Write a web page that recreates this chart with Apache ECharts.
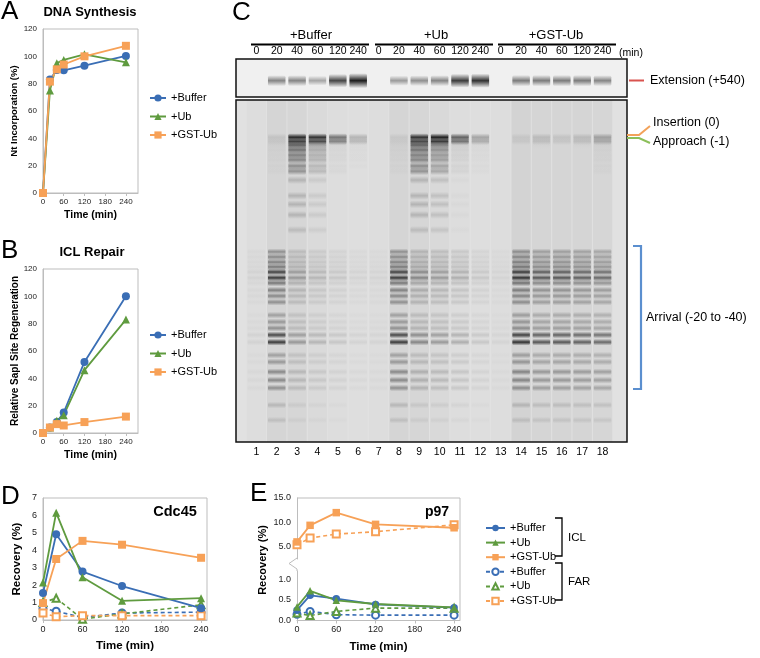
<!DOCTYPE html>
<html>
<head>
<meta charset="utf-8">
<script src="https://cdn.jsdelivr.net/npm/echarts@6/dist/echarts.min.js"></script>
<style>
html, body { margin: 0; padding: 0; background: #fff; }
#fig { width: 760px; height: 658px; }
</style>
</head>
<body>
<div id="fig"></div>
<script>
// ---- panel A / B : time course (min) ----
var times = [0, 20, 40, 60, 120, 240];
var synthBuffer = [0, 83, 90, 89.8, 93.2, 100.3];
var synthUb = [0, 75, 95, 97.4, 101.5, 95.6];
var synthGst = [0, 81.5, 90.5, 94, 100, 107.7];
var repairBuffer = [0, 4, 8, 15, 52, 100];
var repairUb = [0, 4, 9, 13, 46, 83];
var repairGst = [0, 4, 6.5, 5.5, 8, 12];

// ---- panel D / E : recovery (%) ----
var recTimes = [0, 20, 60, 120, 240];
var cdcIclBuffer = [1.55, 4.92, 2.78, 1.95, 0.68];
var cdcIclUb = [2.15, 6.16, 2.45, 1.1, 1.25];
var cdcIclGst = [0.97, 3.5, 4.54, 4.32, 3.57];
var cdcFarBuffer = [0.68, 0.5, 0.15, 0.4, 0.45];
var cdcFarUb = [1.0, 1.25, 0.05, 0.35, 0.87];
var cdcFarGst = [0.4, 0.19, 0.25, 0.25, 0.25];
var p97IclBuffer = [0.25, 0.61, 0.53, 0.39, 0.31];
var p97IclUb = [0.33, 0.72, 0.49, 0.4, 0.32];
var p97IclGst = [6.0, 9.4, 12.0, 9.6, 8.9];
var p97FarBuffer = [0.15, 0.22, 0.14, 0.13, 0.13];
var p97FarUb = [0.18, 0.12, 0.22, 0.3, 0.3];
var p97FarGst = [5.4, 6.8, 7.6, 8.1, 9.5];

// ---- panel C : gel (18 lanes, migration 0 = top of gel, 100 = bottom) ----
var groups = ['+Buffer', '+Ub', '+GST-Ub'];
var laneTimes = ['0', '20', '40', '60', '120', '240'];
var lanes = [1, 2, 3, 4, 5, 6, 7, 8, 9, 10, 11, 12, 13, 14, 15, 16, 17, 18];
var extensionSignal = [0, .5, .5, .35, .8, 1, 0, .4, .45, .5, .85, .9, 0, .55, .55, .55, .55, .5];
var insertionSignal = [0, .1, .95, .9, .55, .22, 0, .08, .9, 1, .65, .3, 0, .08, .15, .1, .15, .3];
var smearSignal = [0, .05, .75, .35, .06, .03, 0, .05, .75, .55, .1, .04, 0, 0, .02, 0, .02, .05];
var arrivalSignal = [.06, .85, .35, .2, .12, .06, .05, .85, .45, .35, .25, .12, .05, .9, .7, .7, .65, .6];
var laneHaze = [.02, .06, .05, .03, .02, .01, .02, .06, .05, .04, .02, .01, .02, .07, .06, .06, .06, .05];
var smearRuns = [13.2, 14.6, 16.1, 17.5, 19.3, 20.8, 23.4, 28.0, 30.5, 33.6, 38.0];
var smearWeights = [.85, .75, .65, .6, .55, .5, .25, .25, .25, .25, .2];
var ladderRuns = [44.4, 45.9, 47.4, 48.8, 50.3, 52.0, 53.5, 55.6, 57.3, 59.1, 62.9, 64.9, 66.7, 68.7, 70.8, 74.6, 76.6, 79.5, 81.9, 84.2, 89.2, 93.6];
var ladderWeights = [.45, .5, .55, .6, .95, 1, .6, .55, .5, .45, .35, .4, .45, .9, 1, .35, .4, .5, .5, .45, .2, .15];

var F = 'Liberation Sans, Arial, sans-serif';
var BLUE = '#3a6eb5', GREEN = '#5f9b3f', ORANGE = '#f7a157', FRAME = '#bdbdbd';

function pairs(xs, ys) {
  return xs.map(function (x, i) { return [x, ys[i]]; });
}

// gel bands: [lane, migration, intensity, thickness]
var hazeData = lanes.map(function (l, i) { return [l, 50, laneHaze[i], 100]; });
var gelData = [];
lanes.forEach(function (l, i) {
  gelData.push([l, 10.9, insertionSignal[i], 1.3]);
  gelData.push([l, 12.1, insertionSignal[i] * 0.85, 1.2]);
  smearRuns.forEach(function (m, k) {
    gelData.push([l, m, smearSignal[i] * smearWeights[k], 1.3]);
  });
  ladderRuns.forEach(function (m, k) {
    gelData.push([l, m, Math.min(0.95, arrivalSignal[i] * ladderWeights[k]), 1.1]);
  });
});
gelData = gelData.filter(function (d) { return d[2] > 0.015; });
var extData = lanes.map(function (l, i) {
  return [l, 0.57, extensionSignal[i], 0.1 + 0.12 * extensionSignal[i]];
}).filter(function (d) { return d[2] > 0; });

function bandRect(params, api) {
  var pt = api.coord([api.value(0), api.value(1)]);
  var thick = api.value(3);
  var a = api.value(2);
  var solid = thick >= 50;
  var sz = api.size([solid ? 0.95 : 0.86, thick]);
  var h = solid ? sz[1] : sz[1] * 1.8;
  var c = 'rgba(28,28,28,' + a.toFixed(3) + ')';
  var fill = solid ? c : {
    type: 'linear', x: 0, y: 0, x2: 0, y2: 1,
    colorStops: [
      { offset: 0, color: 'rgba(28,28,28,0)' },
      { offset: 0.5, color: c },
      { offset: 1, color: 'rgba(28,28,28,0)' }
    ]
  };
  return {
    type: 'rect',
    shape: { x: pt[0] - sz[0] / 2, y: pt[1] - h / 2, width: sz[0], height: h, r: solid ? 0 : 2 },
    style: { fill: fill }
  };
}

function lineSeries(name, xi, xs, ys, color, symbol, size, dashed) {
  return {
    type: 'line', name: name, xAxisIndex: xi, yAxisIndex: xi,
    data: pairs(xs, ys),
    symbol: symbol, symbolSize: size,
    lineStyle: { color: color, width: dashed ? 1.6 : 1.8, type: dashed ? [4, 3] : 'solid' },
    itemStyle: { color: color, borderColor: color, borderWidth: dashed ? 1.3 : 0 },
    animation: false
  };
}

function valueX(grid, max, fs, name, gap, show) {
  return {
    type: 'value', gridIndex: grid, min: 0, max: max, interval: 60, show: show !== false,
    name: name, nameLocation: 'middle', nameGap: gap,
    nameTextStyle: { fontFamily: F, fontWeight: 'bold', fontSize: fs + 2.5, color: '#000' },
    axisLine: { lineStyle: { color: FRAME } },
    axisTick: { show: true, length: 3, lineStyle: { color: FRAME } },
    axisLabel: { fontFamily: F, fontSize: fs, color: '#222', margin: 5, showMaxLabel: false },
    splitLine: { show: false }
  };
}

function valueY(grid, min, max, step, fs, name, gap, nfs, fmt) {
  return {
    type: 'value', gridIndex: grid, min: min, max: max, interval: step,
    name: name, nameLocation: 'middle', nameGap: gap,
    nameTextStyle: { fontFamily: F, fontWeight: 'bold', fontSize: nfs, color: '#000' },
    axisLine: { show: true, lineStyle: { color: FRAME } },
    axisTick: { show: false },
    axisLabel: { fontFamily: F, fontSize: fs, color: '#222', margin: 6, formatter: fmt },
    splitLine: { show: false }
  };
}

function gelX(grid, pos, labels, margin) {
  return {
    type: 'value', gridIndex: grid, position: pos, min: 0, max: 19.2, interval: 1,
    axisLine: { show: false }, axisTick: { show: false }, splitLine: { show: false },
    axisLabel: {
      fontFamily: F, fontSize: 10.5, color: '#000', margin: margin,
      showMaxLabel: false, showMinLabel: false,
      formatter: function (v) { return (v >= 1 && v <= 18) ? labels(v) : ''; }
    }
  };
}

function txt(x, y, s, font, align, extra) {
  var o = { type: 'text', x: x, y: y, style: { text: s, font: font, fill: '#000', align: align || 'center', verticalAlign: 'middle' } };
  if (extra) { for (var k in extra) o[k] = extra[k]; }
  return o;
}
function pline(pts, color, w) {
  return { type: 'polyline', shape: { points: pts }, style: { stroke: color, lineWidth: w, fill: null } };
}

var chart = echarts.init(document.getElementById('fig'), null, { renderer: 'canvas' });

var gridBox = { show: true, borderColor: FRAME, borderWidth: 1, backgroundColor: '#fff', outerBoundsMode: 'none', containLabel: false };
function g(o) { var r = {}; for (var k in gridBox) r[k] = gridBox[k]; for (var j in o) r[j] = o[j]; return r; }

var option = {
  animation: false,
  textStyle: { fontFamily: F },
  grid: [
    g({ left: 43, top: 29, width: 95, height: 164 }),                 // A
    g({ left: 43, top: 269, width: 95, height: 164 }),                // B
    g({ left: 43, top: 498, width: 164, height: 122 }),               // D
    g({ left: 297, top: 498, width: 163, height: 61, show: false }),  // E upper
    g({ left: 297, top: 571, width: 163, height: 49.5, show: false }),// E lower
    g({ left: 236, top: 59, width: 391, height: 38, borderColor: '#111', borderWidth: 1.5, backgroundColor: '#f0f0f0' }), // gel extension
    g({ left: 236, top: 100, width: 391, height: 342, borderColor: '#111', borderWidth: 1.5, backgroundColor: '#e1e1e1' }) // gel main
  ],
  xAxis: [
    valueX(0, 275, 8, 'Time (min)', 17),
    valueX(1, 275, 8, 'Time (min)', 17),
    valueX(2, 249, 9, 'Time (min)', 20),
    valueX(3, 249, 9, '', 0, false),
    valueX(4, 249, 9, 'Time (min)', 20),
    gelX(5, 'top', function (v) { return laneTimes[(v - 1) % 6]; }, 2),
    gelX(6, 'bottom', function (v) { return String(v); }, 5)
  ],
  yAxis: [
    valueY(0, 0, 120, 20, 8, 'Nt Incorporation (%)', 22, 9.5),
    valueY(1, 0, 120, 20, 8, 'Relative SapI Site Regeneration', 21, 10),
    valueY(2, 0, 7, 1, 9, 'Recovery (%)', 20, 11.5),
    valueY(3, 2.5, 15, 2.5, 9, '', 0, 10, function (v) { return v % 5 === 0 ? v.toFixed(1) : ''; }),
    {
      type: 'value', gridIndex: 4, min: 0, max: 1.2, interval: 0.5,
      axisLine: { show: true, lineStyle: { color: FRAME } }, axisTick: { show: false }, splitLine: { show: false },
      axisLabel: { fontFamily: F, fontSize: 9, color: '#222', margin: 6, showMaxLabel: false, formatter: function (v) { return v.toFixed(1); } }
    },
    { type: 'value', gridIndex: 5, min: 0, max: 1, inverse: true, show: false },
    { type: 'value', gridIndex: 6, min: 0, max: 100, inverse: true, show: false }
  ],
  legend: [
    {
      data: ['+Buffer', '+Ub', '+GST-Ub'], orient: 'vertical', left: 144, top: 87,
      itemWidth: 16, itemHeight: 9, itemGap: 6.5,
      textStyle: { fontFamily: F, fontSize: 11, lineHeight: 12, color: '#000' }
    },
    {
      data: ['+Buffer', '+Ub', '+GST-Ub'], orient: 'vertical', left: 144, top: 324,
      itemWidth: 16, itemHeight: 9, itemGap: 6.5,
      textStyle: { fontFamily: F, fontSize: 11, lineHeight: 12, color: '#000' }
    },
    {
      data: ['ICL +Buffer', 'ICL +Ub', 'ICL +GST-Ub', 'FAR +Buffer', 'FAR +Ub', 'FAR +GST-Ub'],
      orient: 'vertical', left: 480, top: 517,
      itemWidth: 19, itemHeight: 8, itemGap: 2.6,
      formatter: function (n) { return n.slice(4); },
      textStyle: { fontFamily: F, fontSize: 11, lineHeight: 12, color: '#000' }
    }
  ],
  series: [
    lineSeries('+Buffer', 0, times, synthBuffer, BLUE, 'circle', 8),
    lineSeries('+Ub', 0, times, synthUb, GREEN, 'triangle', 8),
    lineSeries('+GST-Ub', 0, times, synthGst, ORANGE, 'rect', 8),
    lineSeries('+Buffer', 1, times, repairBuffer, BLUE, 'circle', 8),
    lineSeries('+Ub', 1, times, repairUb, GREEN, 'triangle', 8),
    lineSeries('+GST-Ub', 1, times, repairGst, ORANGE, 'rect', 8),

    lineSeries('FAR +Buffer', 2, recTimes, cdcFarBuffer, BLUE, 'emptyCircle', 7, true),
    lineSeries('FAR +Ub', 2, recTimes, cdcFarUb, GREEN, 'emptyTriangle', 7, true),
    lineSeries('FAR +GST-Ub', 2, recTimes, cdcFarGst, ORANGE, 'emptyRect', 7, true),
    lineSeries('ICL +Buffer', 2, recTimes, cdcIclBuffer, BLUE, 'circle', 8),
    lineSeries('ICL +Ub', 2, recTimes, cdcIclUb, GREEN, 'triangle', 8),
    lineSeries('ICL +GST-Ub', 2, recTimes, cdcIclGst, ORANGE, 'rect', 8),

    lineSeries('FAR +GST-Ub', 3, recTimes, p97FarGst, ORANGE, 'emptyRect', 7, true),
    lineSeries('ICL +GST-Ub', 3, recTimes, p97IclGst, ORANGE, 'rect', 7.5),
    lineSeries('FAR +Buffer', 4, recTimes, p97FarBuffer, BLUE, 'emptyCircle', 7, true),
    lineSeries('FAR +Ub', 4, recTimes, p97FarUb, GREEN, 'emptyTriangle', 7, true),
    lineSeries('ICL +Buffer', 4, recTimes, p97IclBuffer, BLUE, 'circle', 7.5),
    lineSeries('ICL +Ub', 4, recTimes, p97IclUb, GREEN, 'triangle', 7.5),

    { type: 'custom', xAxisIndex: 5, yAxisIndex: 5, data: extData, renderItem: bandRect, clip: true, silent: true },
    { type: 'custom', xAxisIndex: 6, yAxisIndex: 6, data: hazeData, renderItem: bandRect, clip: true, silent: true },
    { type: 'custom', xAxisIndex: 6, yAxisIndex: 6, data: gelData, renderItem: bandRect, clip: true, silent: true }
  ],
  graphic: [
    // panel letters
    txt(1, 12, 'A', '26px ' + F, 'left'),
    txt(1, 251, 'B', '26px ' + F, 'left'),
    txt(232, 13, 'C', '26px ' + F, 'left'),
    txt(1, 497, 'D', '26px ' + F, 'left'),
    txt(250, 494, 'E', '26px ' + F, 'left'),
    // titles
    txt(90, 12, 'DNA Synthesis', 'bold 13px ' + F),
    txt(92, 252, 'ICL Repair', 'bold 13px ' + F),
    txt(175, 512, 'Cdc45', 'bold 14.5px ' + F),
    txt(437, 512, 'p97', 'bold 14px ' + F),
    txt(263, 560, 'Recovery (%)', 'bold 11px ' + F, 'center', { rotation: Math.PI / 2 }),
    // E frame and axis break
    pline([[297, 498], [460, 498], [460, 620]], FRAME, 1),
    pline([[297, 559], [297, 558], [289, 563.5], [297, 569], [297, 571]], FRAME, 1),
    // E legend brackets
    pline([[555, 518], [562, 518], [562, 556], [555, 556]], '#000', 1.3),
    pline([[555, 563], [562, 563], [562, 600], [555, 600]], '#000', 1.3),
    txt(568, 538, 'ICL', '11.5px ' + F, 'left'),
    txt(568, 582, 'FAR', '11.5px ' + F, 'left'),
    // gel header
    txt(311, 35, groups[0], '13px ' + F),
    txt(436, 35, groups[1], '13px ' + F),
    txt(556, 35, groups[2], '13px ' + F),
    pline([[251, 44.5], [369, 44.5]], '#000', 2),
    pline([[375, 44.5], [493, 44.5]], '#000', 2),
    pline([[498, 44.5], [616, 44.5]], '#000', 2),
    txt(619, 53, '(min)', '10.5px ' + F, 'left'),
    // gel right-side annotations
    pline([[629, 80.5], [644, 80.5]], '#d9534f', 2),
    txt(650, 80.5, 'Extension (+540)', '12.5px ' + F, 'left'),
    pline([[627, 135], [639, 135], [650, 126]], '#f2a25a', 2),
    pline([[627, 138], [639, 138], [650, 143]], '#8cbf5a', 2),
    txt(653, 123, 'Insertion (0)', '12.5px ' + F, 'left'),
    txt(653, 142, 'Approach (-1)', '12.5px ' + F, 'left'),
    pline([[633, 246], [641, 246], [641, 389], [633, 389]], '#5b8fcf', 2.2),
    txt(646, 318, 'Arrival (-20 to -40)', '12.5px ' + F, 'left')
  ]
};

chart.setOption(option);
</script>
</body>
</html>
